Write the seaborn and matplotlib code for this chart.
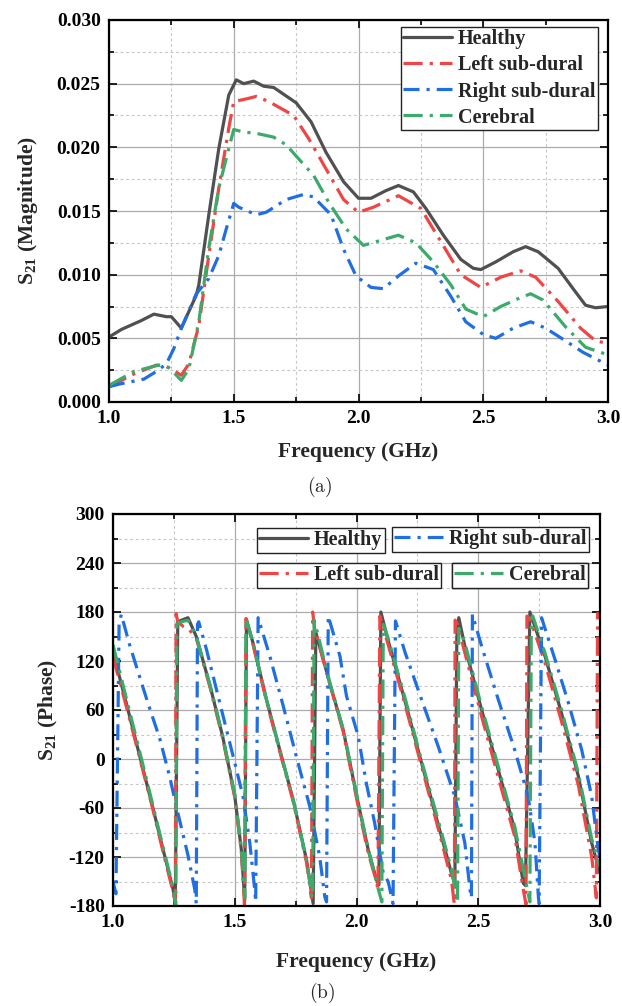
import matplotlib
matplotlib.use("Agg")
import numpy as np
import pandas as pd
import seaborn as sns
import matplotlib.pyplot as plt
from matplotlib.ticker import MultipleLocator, FormatStrFormatter

# ---------------- data: magnitude ----------------
series_names = ["Healthy", "Left sub-dural", "Right sub-dural", "Cerebral"]

mag_healthy_f = [1.00, 1.05, 1.13, 1.18, 1.23, 1.25, 1.29, 1.35, 1.36, 1.40, 1.44, 1.48, 1.51, 1.54, 1.58,
                 1.62, 1.66, 1.72, 1.75, 1.81, 1.87, 1.94, 2.00, 2.05, 2.11, 2.16, 2.22, 2.27, 2.34, 2.41,
                 2.46, 2.49, 2.55, 2.62, 2.67, 2.72, 2.80, 2.86, 2.91, 2.95, 3.00]
mag_healthy_v = [0.0051, 0.0057, 0.0064, 0.0069, 0.0067, 0.0067, 0.0058, 0.0084, 0.0092, 0.0147, 0.0199,
                 0.0241, 0.0253, 0.0250, 0.0252, 0.0248, 0.0247, 0.0239, 0.0235, 0.0220, 0.0196, 0.0173,
                 0.0160, 0.0160, 0.0166, 0.0170, 0.0165, 0.0152, 0.0131, 0.0112, 0.0105, 0.0104, 0.0110,
                 0.0118, 0.0122, 0.0118, 0.0105, 0.0089, 0.0076, 0.0074, 0.0075]

mag_left_f = [1.00, 1.10, 1.19, 1.23, 1.29, 1.32, 1.36, 1.40, 1.44, 1.48, 1.50, 1.55, 1.59, 1.64, 1.74,
              1.80, 1.87, 1.94, 2.00, 2.06, 2.16, 2.25, 2.33, 2.41, 2.49, 2.57, 2.65, 2.71, 2.80, 2.89,
              2.95, 3.00]
mag_left_v = [0.0012, 0.0022, 0.0029, 0.0028, 0.0021, 0.0030, 0.0060, 0.0115, 0.0168, 0.0215, 0.0236,
              0.0238, 0.0240, 0.0236, 0.0225, 0.0207, 0.0183, 0.0159, 0.0149, 0.0153, 0.0162, 0.0152,
              0.0126, 0.0100, 0.0090, 0.0098, 0.0103, 0.0098, 0.0079, 0.0058, 0.0048, 0.0046]

mag_right_f = [1.00, 1.04, 1.14, 1.19, 1.23, 1.26, 1.29, 1.35, 1.40, 1.44, 1.47, 1.50, 1.52, 1.59, 1.63,
               1.71, 1.78, 1.82, 1.89, 1.94, 1.99, 2.05, 2.10, 2.16, 2.23, 2.30, 2.37, 2.43, 2.50, 2.55,
               2.62, 2.69, 2.75, 2.83, 2.90, 3.00]
mag_right_v = [0.0012, 0.0014, 0.0018, 0.0024, 0.0030, 0.0042, 0.0058, 0.0085, 0.0097, 0.0115, 0.0136,
               0.0156, 0.0153, 0.0147, 0.0149, 0.0159, 0.0163, 0.0161, 0.0147, 0.0120, 0.0099, 0.0090,
               0.0089, 0.0099, 0.0109, 0.0104, 0.0083, 0.0063, 0.0053, 0.0050, 0.0058, 0.0063, 0.0058,
               0.0048, 0.0039, 0.0029]

mag_cereb_f = [1.00, 1.10, 1.20, 1.24, 1.29, 1.32, 1.36, 1.40, 1.44, 1.48, 1.50, 1.54, 1.59, 1.66, 1.71,
               1.76, 1.82, 1.88, 1.95, 2.02, 2.09, 2.16, 2.23, 2.30, 2.37, 2.43, 2.50, 2.57, 2.65, 2.69,
               2.74, 2.83, 2.91, 3.00]
mag_cereb_v = [0.0013, 0.0024, 0.0029, 0.0027, 0.0017, 0.0026, 0.0063, 0.0121, 0.0168, 0.0199, 0.0214,
               0.0212, 0.0211, 0.0208, 0.0202, 0.0191, 0.0178, 0.0157, 0.0136, 0.0123, 0.0127, 0.0131,
               0.0125, 0.0110, 0.0092, 0.0073, 0.0067, 0.0075, 0.0082, 0.0085, 0.0080, 0.0059, 0.0043,
               0.0037]

# ---------------- data: phase (degrees) ----------------
ph_healthy_f = [1.000, 1.055, 1.123, 1.164, 1.205, 1.247, 1.256, 1.266, 1.290, 1.308, 1.342, 1.400, 1.450,
                1.500, 1.527, 1.541, 1.548, 1.575, 1.630, 1.685, 1.740, 1.795, 1.822, 1.833, 1.890, 1.945,
                2.007, 2.048, 2.082, 2.092, 2.100, 2.130, 2.200, 2.270, 2.340, 2.390, 2.404, 2.412, 2.420,
                2.445, 2.514, 2.582, 2.650, 2.685, 2.694, 2.712, 2.774, 2.842, 2.911, 2.966, 3.000]
ph_healthy_p = [131, 68, -12, -60, -110, -160, -177, 168, 171, 173, 150, 88, 28,
                -45, -111, -173, 171, 142, 73, 11, -50, -124, -177, 155, 93, 36,
                -54, -111, -148, -154, 180, 145, 70, -8, -85, -140, -152, 150, 173,
                138, 60, -13, -87, -152, -155, 180, 126, 56, -21, -103, -140]

ph_left_f = [1.000, 1.055, 1.123, 1.164, 1.205, 1.247, 1.256, 1.259, 1.266, 1.290, 1.308, 1.342, 1.400,
             1.450, 1.500, 1.527, 1.540, 1.546, 1.575, 1.630, 1.685, 1.740, 1.795, 1.815, 1.820, 1.828,
             1.890, 1.945, 2.007, 2.048, 2.082, 2.088, 2.096, 2.130, 2.200, 2.270, 2.340, 2.390, 2.402,
             2.405, 2.415, 2.445, 2.514, 2.582, 2.650, 2.685, 2.696, 2.700, 2.712, 2.774, 2.842, 2.911,
             2.966, 2.985, 2.990, 3.000]
ph_left_p = [125, 64, -14, -62, -113, -163, -180, 178, 168, 162, 160, 148, 86,
             26, -47, -113, -178, 172, 140, 71, 9, -52, -127, -170, 180, 160,
             92, 34, -58, -115, -150, -160, 175, 140, 66, -12, -90, -148, -178,
             170, 165, 130, 52, -22, -95, -160, -178, 175, 172, 118, 46, -32,
             -120, -170, 178, 176]

ph_right_f = [1.000, 1.012, 1.025, 1.034, 1.068, 1.110, 1.144, 1.192, 1.233, 1.260, 1.308, 1.336, 1.342,
              1.347, 1.352, 1.384, 1.425, 1.466, 1.507, 1.534, 1.562, 1.582, 1.586, 1.596, 1.644, 1.699,
              1.753, 1.808, 1.849, 1.870, 1.877, 1.884, 1.932, 1.959, 2.007, 2.040, 2.075, 2.110, 2.130,
              2.150, 2.160, 2.200, 2.267, 2.336, 2.404, 2.445, 2.466, 2.472, 2.476, 2.514, 2.582, 2.650,
              2.705, 2.733, 2.747, 2.750, 2.760, 2.815, 2.870, 2.925, 2.966, 2.993, 3.000]
ph_right_p = [-150, -165, 165, 177, 140, 100, 68, 25, -22, -58, -118, -160, -177,
              165, 168, 134, 85, 36, -13, -46, -103, -160, -175, 173, 126, 65,
              3, -58, -120, -169, -175, 175, 126, 77, 28, -29, -79, -140, -150,
              -177, 169, 130, 73, 15, -46, -103, -160, -170, 177, 138, 73, 11,
              -46, -103, -169, -177, 173, 122, 69, 11, -46, -111, -120]

ph_cereb_f = [1.000, 1.055, 1.123, 1.164, 1.205, 1.247, 1.258, 1.262, 1.280, 1.308, 1.342, 1.400, 1.450,
              1.500, 1.527, 1.541, 1.546, 1.575, 1.630, 1.685, 1.740, 1.795, 1.815, 1.820, 1.826, 1.835,
              1.890, 1.945, 2.007, 2.048, 2.090, 2.104, 2.110, 2.130, 2.200, 2.270, 2.340, 2.390, 2.415,
              2.420, 2.430, 2.445, 2.514, 2.582, 2.650, 2.695, 2.712, 2.718, 2.724, 2.774, 2.842, 2.911,
              2.966, 3.000]
ph_cereb_p = [140, 74, -7, -57, -107, -158, -180, 165, 168, 170, 150, 89, 29,
              -43, -108, -170, 172, 142, 73, 11, -50, -124, -165, -170, 170, 160,
              94, 37, -52, -110, -160, -175, 165, 148, 74, -5, -80, -135, -175,
              160, 155, 142, 64, -9, -83, -150, -175, 172, 175, 130, 60, -17,
              -98, -132]

colors = {"Healthy": "#505050", "Left sub-dural": "#F04545",
          "Right sub-dural": "#1F6FE3", "Cerebral": "#3BAA6A"}
dashes = {"Healthy": "", "Left sub-dural": (6, 2.2, 1, 2.2),
          "Right sub-dural": (5, 2.2, 1, 2.2), "Cerebral": (6, 2.2, 1, 2.2)}


def long_df(pairs):
    frames = []
    for name, (f, v) in zip(series_names, pairs):
        frames.append(pd.DataFrame({"Frequency": f, "Value": v, "Series": name}))
    return pd.concat(frames, ignore_index=True)


df_mag = long_df([(mag_healthy_f, mag_healthy_v), (mag_left_f, mag_left_v),
                  (mag_right_f, mag_right_v), (mag_cereb_f, mag_cereb_v)])
df_ph = long_df([(ph_healthy_f, ph_healthy_p), (ph_left_f, ph_left_p),
                 (ph_right_f, ph_right_p), (ph_cereb_f, ph_cereb_p)])

sns.set_theme(style="ticks")
plt.rcParams.update({
    "font.family": ["Liberation Serif", "DejaVu Serif"],
    "font.weight": "bold",
    "mathtext.fontset": "custom",
    "mathtext.rm": "Liberation Serif:bold",
    "mathtext.bf": "Liberation Serif:bold",
    "mathtext.it": "Liberation Serif:bold",
    "axes.linewidth": 1.6,
    "axes.edgecolor": "black",
    "xtick.color": "black",
    "ytick.color": "black",
})

fig = plt.figure(figsize=(6.22, 10.06), dpi=100)
ax1 = fig.add_axes([109 / 622, 1 - 402 / 1006, 499 / 622, 382 / 1006])
ax2 = fig.add_axes([113 / 622, 1 - 906 / 1006, 487 / 622, 392 / 1006])

LW = 2.3
for ax, df in ((ax1, df_mag), (ax2, df_ph)):
    sns.lineplot(data=df, x="Frequency", y="Value", hue="Series", style="Series",
                 hue_order=series_names, style_order=series_names,
                 palette=colors, dashes=dashes, sort=False, estimator=None,
                 linewidth=LW, legend=False, ax=ax)
    ax.set_axisbelow(True)
    ax.grid(which="major", color="#ababab", lw=0.9, ls="-")
    ax.grid(which="minor", color="#c6c6c6", lw=0.8, ls=(0, (2.5, 2.5)))
    ax.tick_params(which="both", direction="in", top=True, right=True, width=1.2,
                   labelsize=14, pad=6)
    ax.tick_params(which="major", length=6)
    ax.tick_params(which="minor", length=3.5)
    ax.set_xlim(1.0, 3.0)
    ax.xaxis.set_major_locator(MultipleLocator(0.5))
    ax.xaxis.set_minor_locator(MultipleLocator(0.25))
    ax.xaxis.set_major_formatter(FormatStrFormatter("%.1f"))
    ax.set_xlabel("Frequency (GHz)", fontsize=15.5, fontweight="bold")
    for sp in ax.spines.values():
        sp.set_linewidth(1.6)
        sp.set_color("black")

ax1.set_ylim(0, 0.030)
ax1.yaxis.set_major_locator(MultipleLocator(0.005))
ax1.yaxis.set_minor_locator(MultipleLocator(0.0025))
ax1.yaxis.set_major_formatter(FormatStrFormatter("%.3f"))
ax1.set_ylabel(r"S$_{21}$ (Magnitude)", fontsize=15.5, fontweight="bold")

ax2.set_ylim(-180, 300)
ax2.yaxis.set_major_locator(MultipleLocator(60))
ax2.yaxis.set_minor_locator(MultipleLocator(30))
ax2.yaxis.set_major_formatter(FormatStrFormatter("%d"))
ax2.set_ylabel(r"S$_{21}$ (Phase)", fontsize=15.5, fontweight="bold")

# label positions
ax1.xaxis.set_label_coords(0.5, (402 - 452) / 382)
ax2.xaxis.set_label_coords(0.5, (906 - 962) / 392)
ax1.yaxis.set_label_coords((28 - 109) / 499, 0.5)
ax2.yaxis.set_label_coords((48 - 113) / 487, 0.5)
for ax in (ax1, ax2):
    ax.xaxis.label.set_va("center")
    ax.yaxis.label.set_va("center")
    for t in ax.get_xticklabels() + ax.get_yticklabels():
        t.set_fontweight("bold")

legend_kw = dict(frameon=True, fancybox=False, framealpha=1, edgecolor="#222222",
                 prop={"weight": "bold", "size": 14.5}, handlelength=2.4,
                 handletextpad=0.3, borderaxespad=0, borderpad=0.12)

# top legend
h1 = ax1.get_lines()[:4]
leg1 = ax1.legend(h1, series_names, loc="upper left",
                  bbox_to_anchor=((401 - 109) / 499, (402 - 27) / 382),
                  labelspacing=0.3, **legend_kw)
leg1.get_frame().set_linewidth(1.0)

# bottom: four separate legend boxes
h2 = ax2.get_lines()[:4]
anchors = {"Healthy": (257, 528), "Right sub-dural": (392, 527),
           "Left sub-dural": (257, 563), "Cerebral": (452, 563)}
for i, name in enumerate(series_names):
    px, py = anchors[name]
    lg = ax2.legend([h2[i]], [name], loc="upper left",
                    bbox_to_anchor=((px - 113) / 487, (906 - py) / 392), **legend_kw)
    lg.get_frame().set_linewidth(1.0)
    ax2.add_artist(lg)

fig.text(320 / 622, 1 - 487 / 1006, r"$\mathrm{(a)}$", math_fontfamily="cm",
         fontsize=14, ha="center", va="center")
fig.text(322 / 622, 1 - 993 / 1006, r"$\mathrm{(b)}$", math_fontfamily="cm",
         fontsize=14, ha="center", va="center")

fig.savefig("out.png", dpi=100)
